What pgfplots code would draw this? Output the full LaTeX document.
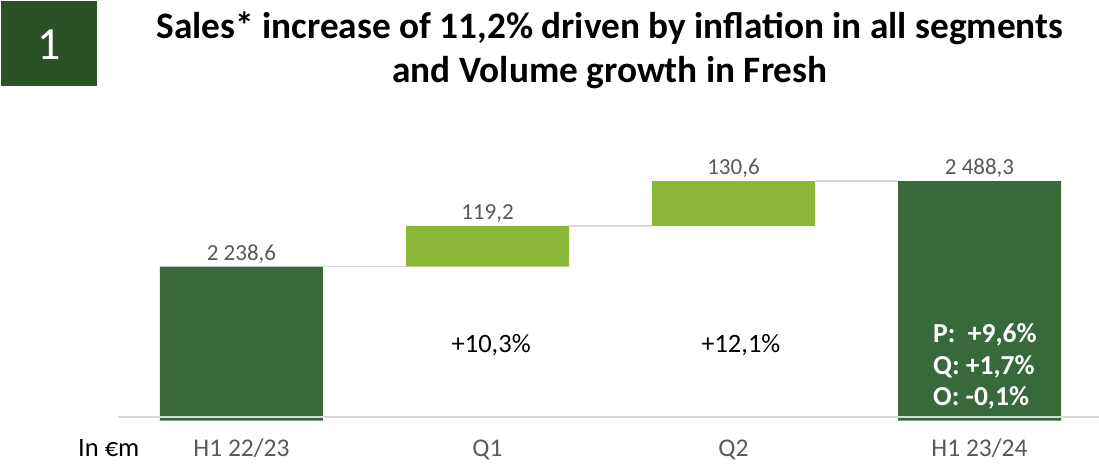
\documentclass[border=0pt]{standalone}
\usepackage{pgfplots}
\pgfplotsset{compat=1.18}
\usepackage{pgfplotstable}
\usepackage{fontspec}
\setmainfont{Carlito}
\definecolor{darkbar}{HTML}{37693A}
\definecolor{lightbar}{HTML}{8BB937}
\definecolor{boxgreen}{HTML}{2B5127}
\definecolor{lblgray}{HTML}{595959}
\definecolor{linegray}{HTML}{D9D9D9}

\pgfplotstableread{
x base total inc top lab
0 1790 2238.6 0 2238.6 {2 238,6}
1 2238.6 0 119.2 2357.8 {119,2}
2 2357.8 0 130.6 2488.4 {130,6}
3 1790 2488.3 0 2488.3 {2 488,3}
}\data

\pgfplotsset{geom/.style={
  at={(118pt,51.3pt)}, anchor=south west,
  x=246pt, y=0.3432pt,
  xmin=-0.502, xmax=3.486, ymin=1790, ymax=2600,
  clip=false}}

\begin{document}
\begin{tikzpicture}
\useasboundingbox (0,0) rectangle (1099pt,472pt);
% title box
\fill[boxgreen] (1pt,386pt) rectangle (97pt,471pt);
\node[anchor=base, text=white, font=\fontsize{46}{50}\selectfont, inner sep=0pt] at (49.5pt,412pt) {1};
\node[anchor=base, font=\fontsize{37.3}{44}\selectfont\bfseries, inner sep=0pt] at (610pt,433pt) {Sales* increase of 11,2\% driven by inflation in all segments};
\node[anchor=base, font=\fontsize{37.3}{44}\selectfont\bfseries, inner sep=0pt] at (610pt,389pt) {and Volume growth in Fresh};
\node[anchor=base west, font=\fontsize{26.5}{30}\selectfont, inner sep=0pt] at (78pt,16pt) {In €m};

\begin{axis}[
  geom,
  axis line style={draw=none},
  major tick length=0pt,
  ytick=\empty,
  xtick={0,1,2,3},
  xticklabels={H1 22/23, Q1, Q2, H1 23/24},
  xticklabel style={anchor=base, yshift=-35.3pt, text=lblgray, font=\fontsize{25.5}{30}\selectfont, inner sep=0pt},
  ybar stacked, bar width=163pt,
]
\addplot[draw=none, fill=none] table[x=x, y=base] {\data};
\addplot[draw=none, fill=darkbar] table[x=x, y expr={\thisrow{total}>0 ? \thisrow{total}-\thisrow{base} : 0}] {\data};
\addplot[draw=none, fill=lightbar] table[x=x, y=inc] {\data};
\end{axis}

\begin{axis}[geom, hide axis]
\addplot[draw=none, mark=none,
  nodes near coords, point meta=explicit symbolic,
  every node near coord/.append style={anchor=base, yshift=6.7pt, text=lblgray, font=\fontsize{23}{28}\selectfont, inner sep=0pt}
  ] table[x=x, y=top, meta=lab] {\data};
\draw[linegray, line width=1.5pt] (axis cs:0.331,2238.6) -- (axis cs:0.669,2238.6);
\draw[linegray, line width=1.5pt] (axis cs:1.331,2357.8) -- (axis cs:1.669,2357.8);
\draw[linegray, line width=1.5pt] (axis cs:2.331,2488.3) -- (axis cs:2.669,2488.3);
\draw[linegray, line width=2pt] (axis cs:-0.502,1800) -- (axis cs:3.486,1800);
\node[anchor=center, font=\fontsize{26.5}{30}\selectfont] at (axis cs:1.015,2011) {+10,3\%};
\node[anchor=center, font=\fontsize{26.5}{30}\selectfont] at (axis cs:2.03,2011) {+12,1\%};
\node[anchor=base west, text=white, font=\fontsize{27.5}{30}\selectfont\bfseries, inner sep=0pt] at (axis cs:2.811,2016.5) {P: \ +9,6\%};
\node[anchor=base west, text=white, font=\fontsize{27.5}{30}\selectfont\bfseries, inner sep=0pt] at (axis cs:2.811,1926) {Q: +1,7\%};
\node[anchor=base west, text=white, font=\fontsize{27.5}{30}\selectfont\bfseries, inner sep=0pt] at (axis cs:2.811,1833) {O: -0,1\%};
\end{axis}
\end{tikzpicture}
\end{document}
